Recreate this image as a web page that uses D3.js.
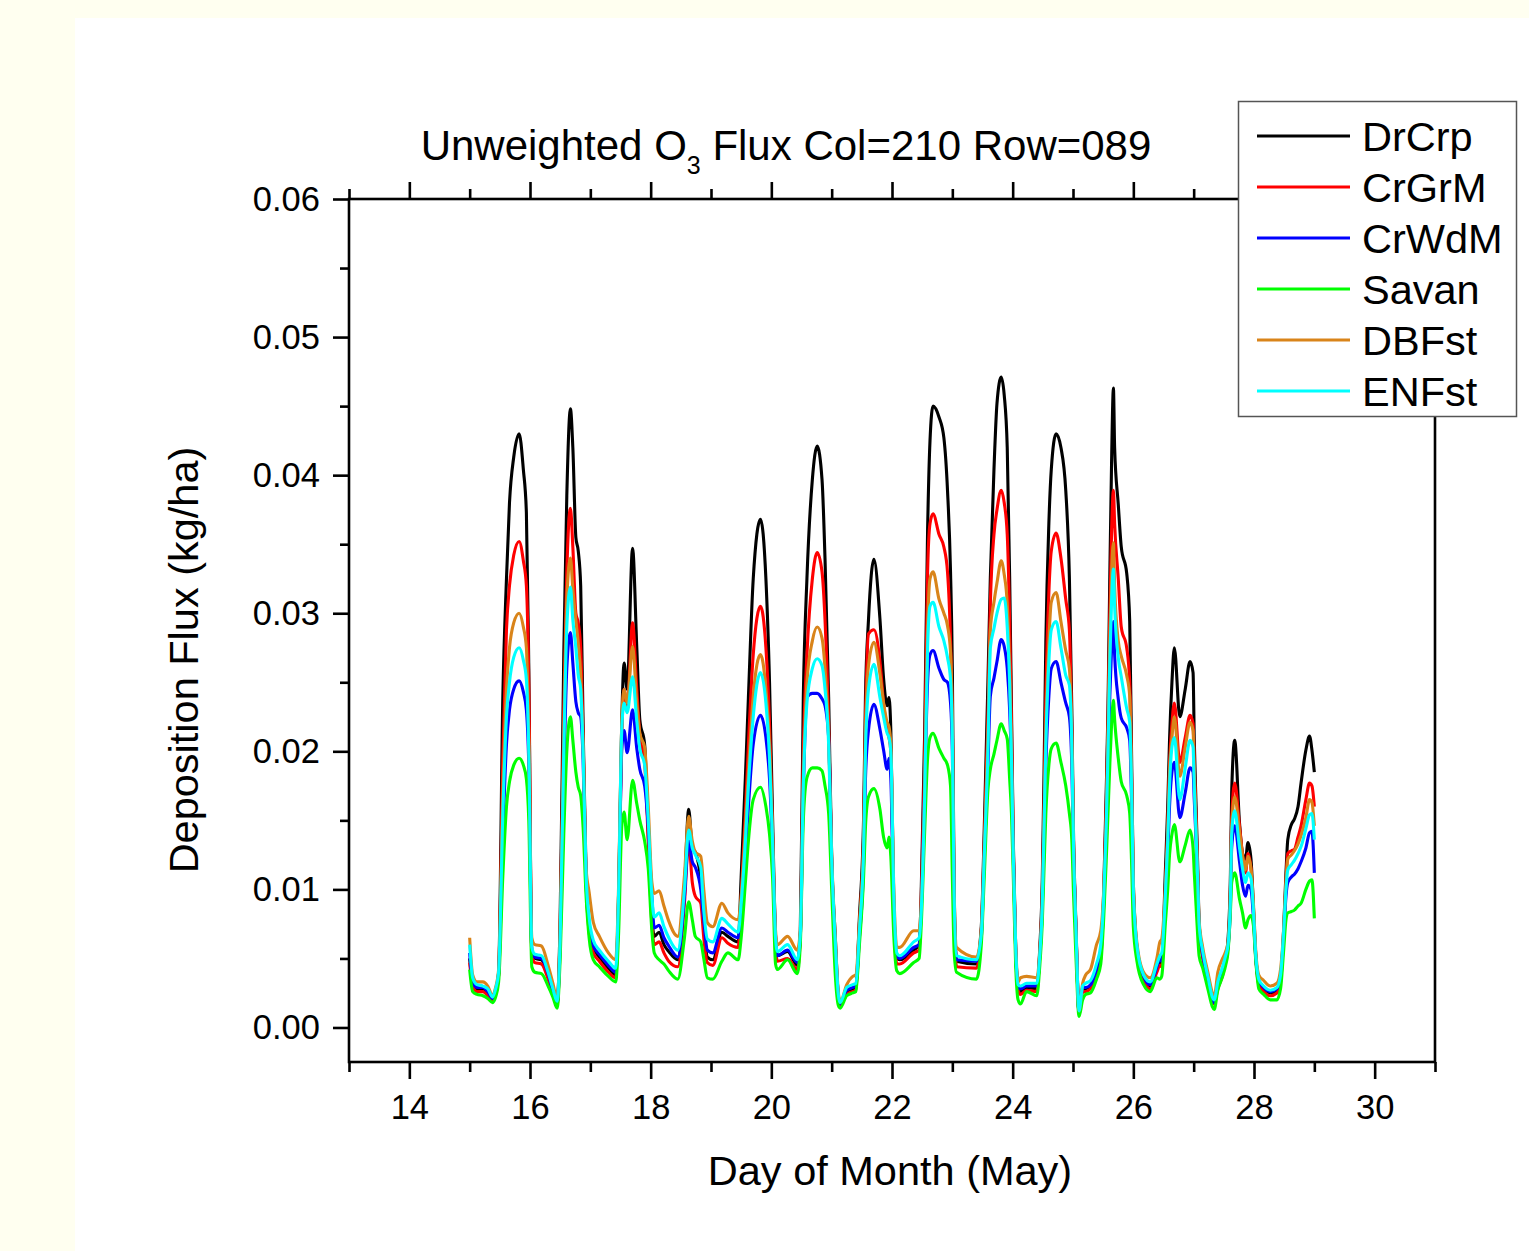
<!DOCTYPE html>
<html><head><meta charset="utf-8">
<script src="https://cdn.jsdelivr.net/npm/d3@7"></script>
<style>html,body{margin:0;padding:0;background:#FFFFF0;}svg{display:block;}</style>
</head><body>
<svg id="chart" width="1529" height="1251"></svg>
<script>
// ---------- DATA ----------
const days = [15.00,15.05,15.12,15.22,15.30,15.38,15.43,15.48,15.55,15.61,
15.66,15.73,15.82,15.89,15.94,15.98,16.03,16.08,16.19,16.30,
16.38,16.45,16.50,16.56,16.61,16.67,16.71,16.76,16.80,16.84,
16.88,16.93,16.98,17.05,17.15,17.30,17.42,17.47,17.52,17.56,
17.61,17.70,17.77,17.82,17.90,17.96,18.02,18.06,18.14,18.22,
18.30,18.45,18.56,18.63,18.69,18.74,18.83,18.88,18.94,19.03,
19.18,19.28,19.45,19.50,19.57,19.62,19.70,19.82,19.91,19.97,
20.02,20.07,20.10,20.27,20.43,20.48,20.53,20.59,20.68,20.76,
20.84,20.89,20.95,21.00,21.06,21.11,21.14,21.25,21.35,21.40,
21.46,21.53,21.56,21.61,21.70,21.80,21.86,21.92,21.95,21.98,
22.03,22.08,22.13,22.36,22.45,22.48,22.54,22.59,22.63,22.68,
22.78,22.86,22.92,22.97,23.00,23.03,23.07,23.40,23.48,23.53,
23.59,23.63,23.69,23.74,23.81,23.86,23.91,23.95,23.98,24.01,
24.05,24.09,24.13,24.23,24.40,24.45,24.49,24.52,24.55,24.60,
24.64,24.72,24.80,24.88,24.94,24.98,25.01,25.05,25.10,25.16,
25.21,25.29,25.39,25.46,25.51,25.55,25.58,25.61,25.64,25.67,
25.69,25.75,25.80,25.89,25.94,25.97,26.00,26.06,26.17,26.28,
26.39,26.44,26.47,26.53,26.57,26.60,26.64,26.68,26.77,26.86,
26.94,26.99,27.01,27.04,27.07,27.09,27.15,27.24,27.31,27.34,
27.40,27.48,27.53,27.57,27.61,27.63,27.68,27.76,27.81,27.86,
27.90,27.95,27.99,28.03,28.08,28.16,28.27,28.38,28.44,28.49,
28.53,28.56,28.62,28.67,28.73,28.78,28.86,28.92,28.96,29.00];

const drCrp = [0.0050,0.0032,0.0028,0.0028,0.0025,0.0020,0.0026,0.0040,0.0240,0.0325,
0.0380,0.0413,0.0430,0.0404,0.0373,0.0260,0.0055,0.0050,0.0049,0.0038,
0.0026,0.0017,0.0080,0.0270,0.0385,0.0448,0.0420,0.0355,0.0345,0.0320,
0.0220,0.0110,0.0072,0.0058,0.0051,0.0043,0.0038,0.0100,0.0220,0.0264,
0.0245,0.0347,0.0275,0.0223,0.0205,0.0140,0.0080,0.0066,0.0069,0.0060,
0.0055,0.0049,0.0100,0.0158,0.0130,0.0127,0.0107,0.0075,0.0051,0.0049,
0.0069,0.0066,0.0062,0.0109,0.0181,0.0239,0.0325,0.0368,0.0325,0.0250,
0.0153,0.0066,0.0052,0.0055,0.0045,0.0070,0.0239,0.0325,0.0397,0.0421,
0.0397,0.0339,0.0239,0.0124,0.0066,0.0023,0.0017,0.0026,0.0028,0.0029,
0.0080,0.0153,0.0239,0.0295,0.0339,0.0296,0.0253,0.0233,0.0239,0.0216,
0.0090,0.0050,0.0049,0.0056,0.0060,0.0090,0.0210,0.0360,0.0425,0.0450,
0.0442,0.0427,0.0389,0.0330,0.0260,0.0100,0.0048,0.0046,0.0073,0.0145,
0.0250,0.0326,0.0404,0.0452,0.0471,0.0458,0.0420,0.0326,0.0231,0.0136,
0.0058,0.0029,0.0026,0.0029,0.0028,0.0058,0.0105,0.0184,0.0279,0.0365,
0.0404,0.0430,0.0420,0.0389,0.0326,0.0231,0.0136,0.0073,0.0011,0.0028,
0.0028,0.0030,0.0040,0.0052,0.0100,0.0170,0.0231,0.0326,0.0411,0.0463,
0.0420,0.0379,0.0348,0.0329,0.0294,0.0200,0.0105,0.0058,0.0036,0.0030,
0.0042,0.0048,0.0046,0.0112,0.0160,0.0208,0.0250,0.0275,0.0225,0.0245,
0.0265,0.0257,0.0208,0.0160,0.0112,0.0076,0.0052,0.0033,0.0020,0.0018,
0.0030,0.0040,0.0050,0.0064,0.0112,0.0170,0.0208,0.0148,0.0126,0.0122,
0.0134,0.0122,0.0088,0.0052,0.0033,0.0028,0.0025,0.0027,0.0035,0.0070,
0.0112,0.0136,0.0147,0.0151,0.0160,0.0177,0.0201,0.0211,0.0201,0.0185];

const crGrM = [0.0047,0.0030,0.0026,0.0026,0.0023,0.0019,0.0024,0.0038,0.0195,0.0288,
0.0320,0.0342,0.0352,0.0338,0.0320,0.0250,0.0052,0.0047,0.0046,0.0035,
0.0024,0.0016,0.0070,0.0230,0.0330,0.0376,0.0348,0.0300,0.0293,0.0275,
0.0210,0.0105,0.0069,0.0054,0.0048,0.0040,0.0036,0.0095,0.0210,0.0245,
0.0230,0.0293,0.0245,0.0212,0.0192,0.0135,0.0075,0.0060,0.0062,0.0054,
0.0048,0.0044,0.0090,0.0135,0.0105,0.0095,0.0090,0.0065,0.0047,0.0045,
0.0065,0.0061,0.0058,0.0095,0.0155,0.0205,0.0270,0.0305,0.0275,0.0220,
0.0140,0.0060,0.0048,0.0050,0.0042,0.0065,0.0200,0.0270,0.0325,0.0344,
0.0330,0.0295,0.0220,0.0120,0.0060,0.0021,0.0016,0.0024,0.0026,0.0027,
0.0075,0.0140,0.0220,0.0285,0.0288,0.0265,0.0235,0.0215,0.0210,0.0200,
0.0085,0.0046,0.0046,0.0054,0.0056,0.0085,0.0190,0.0330,0.0365,0.0372,
0.0357,0.0348,0.0330,0.0280,0.0220,0.0090,0.0044,0.0043,0.0070,0.0135,
0.0225,0.0307,0.0357,0.0375,0.0389,0.0380,0.0357,0.0294,0.0220,0.0130,
0.0055,0.0027,0.0024,0.0027,0.0026,0.0055,0.0095,0.0160,0.0240,0.0315,
0.0345,0.0358,0.0340,0.0310,0.0288,0.0215,0.0130,0.0070,0.0010,0.0026,
0.0026,0.0028,0.0038,0.0050,0.0095,0.0160,0.0220,0.0300,0.0360,0.0389,
0.0365,0.0325,0.0290,0.0275,0.0250,0.0185,0.0100,0.0055,0.0034,0.0028,
0.0040,0.0045,0.0044,0.0100,0.0145,0.0190,0.0220,0.0235,0.0192,0.0210,
0.0226,0.0220,0.0190,0.0150,0.0105,0.0073,0.0050,0.0031,0.0019,0.0017,
0.0028,0.0038,0.0048,0.0060,0.0100,0.0150,0.0177,0.0146,0.0125,0.0112,
0.0126,0.0115,0.0085,0.0050,0.0031,0.0026,0.0023,0.0025,0.0033,0.0065,
0.0105,0.0126,0.0128,0.0129,0.0138,0.0146,0.0165,0.0177,0.0175,0.0160];

const crWdM = [0.0054,0.0033,0.0029,0.0029,0.0026,0.0021,0.0026,0.0038,0.0140,0.0205,
0.0230,0.0245,0.0251,0.0243,0.0230,0.0190,0.0056,0.0051,0.0050,0.0039,
0.0026,0.0018,0.0060,0.0180,0.0260,0.0286,0.0264,0.0236,0.0228,0.0225,
0.0194,0.0105,0.0073,0.0059,0.0053,0.0045,0.0040,0.0090,0.0200,0.0215,
0.0199,0.0230,0.0202,0.0187,0.0175,0.0145,0.0095,0.0072,0.0074,0.0065,
0.0059,0.0051,0.0095,0.0135,0.0120,0.0116,0.0100,0.0078,0.0056,0.0054,
0.0072,0.0069,0.0065,0.0085,0.0125,0.0160,0.0205,0.0226,0.0210,0.0180,
0.0130,0.0066,0.0052,0.0056,0.0047,0.0065,0.0170,0.0239,0.0242,0.0242,
0.0238,0.0233,0.0210,0.0120,0.0060,0.0023,0.0017,0.0027,0.0029,0.0030,
0.0065,0.0120,0.0180,0.0215,0.0234,0.0216,0.0201,0.0187,0.0195,0.0181,
0.0085,0.0052,0.0050,0.0058,0.0060,0.0080,0.0170,0.0250,0.0270,0.0273,
0.0260,0.0252,0.0250,0.0235,0.0200,0.0090,0.0049,0.0048,0.0065,0.0125,
0.0190,0.0240,0.0253,0.0265,0.0281,0.0276,0.0260,0.0230,0.0190,0.0125,
0.0056,0.0030,0.0028,0.0030,0.0030,0.0052,0.0085,0.0135,0.0190,0.0240,
0.0260,0.0265,0.0250,0.0235,0.0225,0.0190,0.0125,0.0068,0.0011,0.0029,
0.0029,0.0031,0.0042,0.0055,0.0090,0.0140,0.0190,0.0240,0.0275,0.0294,
0.0270,0.0238,0.0224,0.0217,0.0208,0.0165,0.0095,0.0057,0.0037,0.0031,
0.0044,0.0050,0.0048,0.0090,0.0125,0.0160,0.0185,0.0192,0.0152,0.0170,
0.0188,0.0185,0.0165,0.0135,0.0100,0.0073,0.0053,0.0034,0.0020,0.0018,
0.0031,0.0041,0.0050,0.0058,0.0090,0.0130,0.0146,0.0120,0.0103,0.0095,
0.0103,0.0100,0.0080,0.0050,0.0034,0.0029,0.0026,0.0028,0.0036,0.0065,
0.0095,0.0105,0.0109,0.0111,0.0115,0.0120,0.0130,0.0141,0.0142,0.0112];

const savan = [0.0042,0.0026,0.0024,0.0023,0.0021,0.0018,0.0022,0.0033,0.0110,0.0160,
0.0178,0.0190,0.0195,0.0190,0.0180,0.0150,0.0044,0.0040,0.0039,0.0030,
0.0022,0.0014,0.0050,0.0140,0.0200,0.0225,0.0208,0.0185,0.0174,0.0168,
0.0145,0.0095,0.0065,0.0049,0.0044,0.0037,0.0033,0.0070,0.0145,0.0156,
0.0136,0.0179,0.0162,0.0150,0.0135,0.0115,0.0070,0.0054,0.0049,0.0046,
0.0041,0.0035,0.0065,0.0091,0.0078,0.0066,0.0062,0.0050,0.0036,0.0035,
0.0048,0.0054,0.0049,0.0065,0.0105,0.0135,0.0165,0.0174,0.0160,0.0140,
0.0109,0.0046,0.0042,0.0049,0.0039,0.0060,0.0150,0.0181,0.0188,0.0188,
0.0186,0.0175,0.0155,0.0100,0.0038,0.0016,0.0014,0.0023,0.0025,0.0026,
0.0060,0.0110,0.0145,0.0167,0.0173,0.0158,0.0138,0.0130,0.0138,0.0124,
0.0066,0.0041,0.0039,0.0047,0.0050,0.0070,0.0140,0.0195,0.0210,0.0213,
0.0202,0.0195,0.0190,0.0175,0.0110,0.0055,0.0040,0.0035,0.0060,0.0110,
0.0172,0.0187,0.0198,0.0208,0.0220,0.0215,0.0209,0.0180,0.0155,0.0110,
0.0045,0.0020,0.0017,0.0026,0.0023,0.0045,0.0075,0.0115,0.0155,0.0190,
0.0202,0.0206,0.0192,0.0175,0.0155,0.0136,0.0095,0.0050,0.0008,0.0020,
0.0024,0.0025,0.0035,0.0046,0.0080,0.0120,0.0155,0.0190,0.0220,0.0237,
0.0223,0.0195,0.0178,0.0168,0.0155,0.0121,0.0073,0.0048,0.0031,0.0026,
0.0036,0.0035,0.0037,0.0075,0.0100,0.0125,0.0140,0.0147,0.0120,0.0132,
0.0143,0.0130,0.0112,0.0088,0.0064,0.0052,0.0043,0.0027,0.0015,0.0013,
0.0027,0.0037,0.0045,0.0055,0.0085,0.0105,0.0112,0.0093,0.0083,0.0072,
0.0078,0.0081,0.0074,0.0048,0.0028,0.0024,0.0020,0.0020,0.0028,0.0055,
0.0078,0.0083,0.0084,0.0085,0.0088,0.0090,0.0100,0.0106,0.0107,0.0079];

const dbFst = [0.0065,0.0038,0.0033,0.0033,0.0030,0.0023,0.0029,0.0042,0.0170,0.0245,
0.0275,0.0293,0.0300,0.0290,0.0275,0.0210,0.0065,0.0060,0.0059,0.0045,
0.0032,0.0020,0.0070,0.0210,0.0310,0.0340,0.0318,0.0295,0.0278,0.0255,
0.0205,0.0115,0.0098,0.0076,0.0066,0.0054,0.0049,0.0105,0.0220,0.0245,
0.0235,0.0276,0.0235,0.0213,0.0203,0.0160,0.0105,0.0097,0.0099,0.0088,
0.0077,0.0066,0.0110,0.0153,0.0135,0.0127,0.0124,0.0100,0.0076,0.0073,
0.0090,0.0083,0.0078,0.0095,0.0145,0.0185,0.0240,0.0270,0.0245,0.0205,
0.0140,0.0070,0.0060,0.0066,0.0056,0.0070,0.0180,0.0250,0.0280,0.0290,
0.0282,0.0260,0.0210,0.0125,0.0065,0.0026,0.0018,0.0031,0.0037,0.0038,
0.0075,0.0135,0.0210,0.0262,0.0279,0.0256,0.0235,0.0221,0.0218,0.0205,
0.0100,0.0058,0.0058,0.0070,0.0070,0.0085,0.0170,0.0290,0.0325,0.0330,
0.0310,0.0300,0.0291,0.0272,0.0220,0.0100,0.0058,0.0051,0.0070,0.0130,
0.0210,0.0288,0.0308,0.0322,0.0338,0.0328,0.0307,0.0260,0.0200,0.0125,
0.0060,0.0033,0.0036,0.0037,0.0036,0.0055,0.0090,0.0150,0.0215,0.0280,
0.0308,0.0315,0.0294,0.0273,0.0260,0.0210,0.0130,0.0070,0.0012,0.0032,
0.0038,0.0042,0.0060,0.0070,0.0100,0.0150,0.0210,0.0280,0.0330,0.0351,
0.0320,0.0280,0.0269,0.0255,0.0240,0.0180,0.0105,0.0061,0.0040,0.0036,
0.0050,0.0062,0.0064,0.0100,0.0140,0.0185,0.0210,0.0225,0.0182,0.0203,
0.0221,0.0215,0.0185,0.0145,0.0105,0.0078,0.0058,0.0039,0.0025,0.0022,
0.0040,0.0050,0.0055,0.0062,0.0100,0.0145,0.0167,0.0142,0.0125,0.0114,
0.0124,0.0115,0.0090,0.0055,0.0038,0.0034,0.0030,0.0032,0.0042,0.0070,
0.0105,0.0122,0.0125,0.0128,0.0133,0.0139,0.0152,0.0165,0.0163,0.0146];

const enFst = [0.0060,0.0036,0.0031,0.0030,0.0028,0.0022,0.0028,0.0040,0.0155,0.0225,
0.0250,0.0268,0.0275,0.0266,0.0252,0.0200,0.0058,0.0053,0.0052,0.0040,
0.0028,0.0019,0.0065,0.0200,0.0290,0.0319,0.0295,0.0275,0.0255,0.0245,
0.0200,0.0110,0.0080,0.0063,0.0056,0.0048,0.0043,0.0100,0.0215,0.0235,
0.0228,0.0254,0.0222,0.0202,0.0190,0.0150,0.0095,0.0080,0.0083,0.0073,
0.0065,0.0056,0.0100,0.0143,0.0130,0.0125,0.0116,0.0085,0.0064,0.0062,
0.0079,0.0075,0.0069,0.0090,0.0135,0.0175,0.0225,0.0257,0.0235,0.0195,
0.0135,0.0065,0.0055,0.0060,0.0049,0.0068,0.0175,0.0235,0.0260,0.0267,
0.0262,0.0245,0.0205,0.0122,0.0062,0.0024,0.0018,0.0029,0.0031,0.0032,
0.0070,0.0130,0.0200,0.0245,0.0263,0.0239,0.0225,0.0213,0.0210,0.0200,
0.0095,0.0054,0.0052,0.0062,0.0065,0.0080,0.0165,0.0275,0.0305,0.0308,
0.0290,0.0280,0.0268,0.0252,0.0210,0.0095,0.0052,0.0049,0.0068,0.0125,
0.0200,0.0275,0.0289,0.0300,0.0310,0.0311,0.0290,0.0250,0.0195,0.0125,
0.0058,0.0031,0.0030,0.0032,0.0032,0.0053,0.0088,0.0145,0.0205,0.0265,
0.0288,0.0294,0.0275,0.0255,0.0248,0.0205,0.0128,0.0070,0.0012,0.0030,
0.0032,0.0034,0.0046,0.0060,0.0095,0.0145,0.0200,0.0265,0.0310,0.0332,
0.0305,0.0268,0.0254,0.0231,0.0221,0.0175,0.0100,0.0059,0.0038,0.0033,
0.0046,0.0052,0.0054,0.0095,0.0135,0.0175,0.0203,0.0210,0.0165,0.0188,
0.0208,0.0203,0.0175,0.0140,0.0102,0.0075,0.0055,0.0036,0.0022,0.0020,
0.0033,0.0044,0.0052,0.0060,0.0095,0.0140,0.0157,0.0130,0.0115,0.0105,
0.0112,0.0108,0.0085,0.0052,0.0035,0.0030,0.0027,0.0029,0.0038,0.0068,
0.0100,0.0114,0.0118,0.0121,0.0126,0.0131,0.0144,0.0154,0.0155,0.0136];

const seriesNames = ["DrCrp","CrGrM","CrWdM","Savan","DBFst","ENFst"];
const seriesColors = ["#000000","#FF0000","#0000FF","#00FF00","#D9841A","#00FFFF"];
const seriesValues = [drCrp, crGrM, crWdM, savan, dbFst, enFst];

const xTickValues = [14,16,18,20,22,24,26,28,30];
const xMinorValues = [13,15,17,19,21,23,25,27,29,31];
const yTickValues = [0,0.01,0.02,0.03,0.04,0.05,0.06];
const yMinorValues = [0.005,0.015,0.025,0.035,0.045,0.055];

// ---------- LAYOUT ----------
const FONT = "'Liberation Sans', Arial, sans-serif";
const svg = d3.select("#chart");
svg.append("rect").attr("x",0).attr("y",0).attr("width",1529).attr("height",1251).attr("fill","#FFFFF0");
svg.append("rect").attr("x",75).attr("y",18).attr("width",1454).attr("height",1233).attr("fill","#FFFFFF");

const L = 349, R = 1435, T = 199, B = 1062;
const x = d3.scaleLinear().domain([13,31]).range([L,R]);
const y = d3.scaleLinear().domain([-0.0025,0.06]).range([B,T]);

const axisW = 2.6;
function styleAxis(g){
  g.select(".domain").remove();
  g.selectAll(".tick line").attr("stroke","#000").attr("stroke-width",axisW);
  g.selectAll(".tick text").attr("font-family",FONT).attr("font-size",34.5).attr("fill","#000");
}
// bottom
const gB = svg.append("g").attr("transform",`translate(0,${B})`)
  .call(d3.axisBottom(x).tickValues(xTickValues).tickSize(17).tickPadding(16).tickFormat(d3.format("d")));
styleAxis(gB);
svg.append("g").attr("transform",`translate(0,${B})`)
  .call(d3.axisBottom(x).tickValues(xMinorValues).tickSize(10).tickFormat(""))
  .call(styleAxis);
// top
svg.append("g").attr("transform",`translate(0,${T})`)
  .call(d3.axisTop(x).tickValues(xTickValues).tickSize(17).tickFormat(""))
  .call(styleAxis);
svg.append("g").attr("transform",`translate(0,${T})`)
  .call(d3.axisTop(x).tickValues(xMinorValues).tickSize(10).tickFormat(""))
  .call(styleAxis);
// left
const gL = svg.append("g").attr("transform",`translate(${L},0)`)
  .call(d3.axisLeft(y).tickValues(yTickValues).tickSize(16).tickPadding(13).tickFormat(d3.format(".2f")));
styleAxis(gL);
svg.append("g").attr("transform",`translate(${L},0)`)
  .call(d3.axisLeft(y).tickValues(yMinorValues).tickSize(9).tickFormat(""))
  .call(styleAxis);

// frame
svg.append("rect").attr("x",L).attr("y",T).attr("width",R-L).attr("height",B-T)
  .attr("fill","none").attr("stroke","#000").attr("stroke-width",axisW);

// lines
const line = d3.line().x((d,i)=>x(days[i])).y(d=>y(d)).curve(d3.curveMonotoneX);
const gLines = svg.append("g");
seriesValues.forEach((vals,k)=>{
  gLines.append("path").datum(vals).attr("d",line)
    .attr("fill","none").attr("stroke",seriesColors[k]).attr("stroke-width",3.1)
    .attr("stroke-linejoin","round");
});

// title
const title = svg.append("text").attr("x",786).attr("y",160).attr("text-anchor","middle")
  .attr("font-family",FONT).attr("font-size",42).attr("fill","#000");
title.append("tspan").text("Unweighted O");
title.append("tspan").attr("font-size",25).attr("dy",14).text("3");
title.append("tspan").attr("dy",-14).text(" Flux Col=210 Row=089");

// axis titles
svg.append("text").attr("x",890).attr("y",1185).attr("text-anchor","middle")
  .attr("font-family",FONT).attr("font-size",41.5).attr("fill","#000").text("Day of Month (May)");
svg.append("text").attr("transform","translate(198,660) rotate(-90)").attr("text-anchor","middle")
  .attr("font-family",FONT).attr("font-size",41.5).attr("fill","#000").text("Deposition Flux (kg/ha)");

// legend
const lg = svg.append("g");
lg.append("rect").attr("x",1238.5).attr("y",101.5).attr("width",278).attr("height",315)
  .attr("fill","#fff").attr("stroke","#555").attr("stroke-width",1.5);
seriesNames.forEach((n,k)=>{
  const yy = 136 + k*51;
  lg.append("line").attr("x1",1257).attr("x2",1350).attr("y1",yy).attr("y2",yy)
    .attr("stroke",seriesColors[k]).attr("stroke-width",2.8);
  lg.append("text").attr("x",1362).attr("y",yy).attr("dy","0.36em")
    .attr("font-family",FONT).attr("font-size",41.5).attr("fill","#000").text(n);
});
</script>
</body></html>
